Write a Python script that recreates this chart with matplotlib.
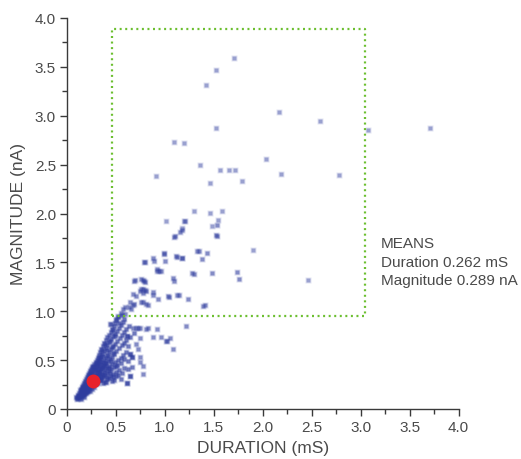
import matplotlib
matplotlib.use("Agg")
import matplotlib.pyplot as plt
from matplotlib.ticker import MultipleLocator, FuncFormatter

plt.rcParams['font.family'] = ['Liberation Sans', 'DejaVu Sans']

# ---- data (duration mS, magnitude nA) ----
core_points = [
    (0.10, 0.10), (0.12, 0.11), (0.14, 0.10), (0.11, 0.13), (0.095, 0.12),
    (0.13, 0.125), (0.155, 0.13), (0.17, 0.12), (0.115, 0.145), (0.135, 0.14),
    (0.15, 0.155), (0.175, 0.15), (0.19, 0.165), (0.125, 0.165), (0.145, 0.175),
    (0.16, 0.165), (0.185, 0.18), (0.205, 0.17), (0.135, 0.19), (0.155, 0.185),
    (0.17, 0.2), (0.195, 0.19), (0.215, 0.195), (0.235, 0.185), (0.145, 0.205),
    (0.165, 0.215), (0.18, 0.205), (0.205, 0.215), (0.225, 0.21), (0.255, 0.2),
    (0.155, 0.225), (0.175, 0.23), (0.19, 0.225), (0.215, 0.23), (0.24, 0.235), (0.275, 0.225),
    (0.165, 0.245), (0.185, 0.255), (0.2, 0.24), (0.23, 0.25), (0.26, 0.245), (0.295, 0.255),
    (0.175, 0.265), (0.195, 0.275), (0.22, 0.265), (0.25, 0.275), (0.28, 0.262), (0.315, 0.27), (0.365, 0.262),
    (0.185, 0.285), (0.21, 0.295), (0.235, 0.285), (0.3, 0.282), (0.335, 0.295), (0.385, 0.28), (0.455, 0.29),
    (0.195, 0.305), (0.225, 0.315), (0.255, 0.3), (0.28, 0.312), (0.31, 0.298), (0.345, 0.31), (0.405, 0.302), (0.485, 0.3), (0.555, 0.312),
    (0.205, 0.325), (0.232, 0.335), (0.265, 0.322), (0.298, 0.334), (0.33, 0.32), (0.372, 0.33), (0.425, 0.322), (0.505, 0.333), (0.61, 0.27),
    (0.215, 0.345), (0.243, 0.355), (0.275, 0.342), (0.312, 0.352), (0.352, 0.34), (0.392, 0.352), (0.452, 0.342), (0.522, 0.35), (0.642, 0.34),
    (0.225, 0.365), (0.258, 0.372), (0.29, 0.362), (0.328, 0.373), (0.362, 0.36), (0.412, 0.371), (0.472, 0.362), (0.562, 0.372),
    (0.235, 0.385), (0.272, 0.392), (0.302, 0.38), (0.342, 0.391), (0.382, 0.381), (0.432, 0.39), (0.502, 0.382),
    (0.245, 0.405), (0.282, 0.413), (0.318, 0.4), (0.352, 0.411), (0.392, 0.402), (0.452, 0.41), (0.532, 0.402), (0.622, 0.41),
    (0.255, 0.425), (0.292, 0.432), (0.332, 0.42), (0.372, 0.431), (0.412, 0.422), (0.482, 0.43), (0.582, 0.421),
    (0.268, 0.445), (0.302, 0.452), (0.342, 0.44), (0.382, 0.451), (0.432, 0.44), (0.512, 0.452), (0.662, 0.432),
    (0.278, 0.465), (0.312, 0.472), (0.352, 0.462), (0.402, 0.471), (0.462, 0.462), (0.552, 0.47),
    (0.292, 0.485), (0.328, 0.492), (0.372, 0.481), (0.422, 0.49), (0.492, 0.481), (0.622, 0.49),
    (0.302, 0.505), (0.342, 0.512), (0.382, 0.5), (0.442, 0.511), (0.522, 0.502), (0.582, 0.51),
    (0.312, 0.525), (0.352, 0.532), (0.402, 0.522), (0.462, 0.53), (0.552, 0.522), (0.642, 0.56),
    (0.322, 0.552), (0.362, 0.562), (0.412, 0.55), (0.482, 0.56), (0.572, 0.551), (0.662, 0.53),
    (0.342, 0.582), (0.382, 0.592), (0.432, 0.58), (0.502, 0.59), (0.602, 0.58),
    (0.352, 0.612), (0.402, 0.622), (0.452, 0.61), (0.532, 0.62),
    (0.372, 0.642), (0.412, 0.652), (0.472, 0.64), (0.562, 0.651), (0.622, 0.64),
    (0.382, 0.672), (0.432, 0.682), (0.492, 0.67), (0.582, 0.68),
    (0.402, 0.702), (0.452, 0.712), (0.512, 0.7), (0.602, 0.71),
    (0.412, 0.732), (0.472, 0.742), (0.542, 0.73), (0.612, 0.75), (0.642, 0.74),
    (0.432, 0.762), (0.492, 0.772), (0.562, 0.76),
    (0.452, 0.792), (0.512, 0.8), (0.582, 0.79), (0.682, 0.78),
    (0.462, 0.822), (0.532, 0.83), (0.602, 0.82),
    (0.482, 0.852), (0.552, 0.86), (0.632, 0.85),
    (0.492, 0.882), (0.572, 0.89),
    (0.502, 0.912), (0.582, 0.92),
    (0.522, 0.942), (0.562, 0.96),
]

core_fill = [
    (0.105, 0.115), (0.125, 0.135), (0.14, 0.155), (0.16, 0.14), (0.18, 0.16),
    (0.15, 0.195), (0.19, 0.21), (0.21, 0.18), (0.165, 0.23), (0.2, 0.26),
    (0.23, 0.22), (0.25, 0.26), (0.21, 0.28), (0.24, 0.3), (0.27, 0.29),
    (0.22, 0.35), (0.26, 0.34), (0.29, 0.32), (0.32, 0.34), (0.25, 0.39),
    (0.29, 0.4), (0.33, 0.38), (0.37, 0.35), (0.41, 0.33), (0.44, 0.37),
    (0.27, 0.43), (0.31, 0.44), (0.36, 0.42), (0.39, 0.44), (0.43, 0.42),
    (0.3, 0.47), (0.34, 0.48), (0.39, 0.47), (0.45, 0.49), (0.5, 0.44),
    (0.33, 0.53), (0.37, 0.54), (0.42, 0.54), (0.47, 0.57), (0.36, 0.6),
    (0.41, 0.6), (0.46, 0.63), (0.39, 0.66), (0.44, 0.7), (0.49, 0.75),
    (0.47, 0.81), (0.53, 0.88), (0.35, 0.3), (0.4, 0.28), (0.47, 0.33),
]

mid_points = [
    (1.17, 1.83), (1.15, 1.81), (1.10, 1.77), (1.09, 1.76), (1.53, 1.77), (1.52, 1.78), (1.53, 1.88),
    (1.21, 1.92), (0.99, 1.60), (0.99, 1.59), (1.11, 1.57), (1.12, 1.56), (1.18, 1.54), (1.17, 1.54),
    (1.35, 1.62), (1.33, 1.62), (1.43, 1.60), (0.88, 1.54), (0.89, 1.51), (0.79, 1.50), (0.80, 1.50),
    (1.00, 1.51), (1.38, 1.53), (0.92, 1.41), (0.94, 1.41), (0.96, 1.41), (0.92, 1.43),
    (1.28, 1.39), (1.30, 1.38), (1.48, 1.39), (1.74, 1.40), (1.76, 1.33), (1.08, 1.34), (1.09, 1.31),
    (0.76, 1.33), (0.79, 1.31), (0.68, 1.31), (0.69, 1.32), (0.78, 1.32), (0.80, 1.30),
    (0.78, 1.23), (0.81, 1.21), (0.75, 1.21), (0.76, 1.23), (0.80, 1.22), (0.78, 1.19),
    (0.875, 1.20), (0.88, 1.17), (1.035, 1.16), (1.045, 1.15), (1.12, 1.17), (1.14, 1.17),
    (1.24, 1.125), (0.93, 1.13), (0.67, 1.18), (0.70, 1.16),
    (0.78, 1.09), (0.81, 1.07), (0.83, 1.06), (0.76, 1.09), (0.68, 1.07), (0.64, 1.09), (0.67, 1.06),
    (0.63, 1.04), (0.65, 1.02), (0.59, 1.04), (1.39, 1.05), (1.41, 1.06),
    (0.575, 1.02), (0.55, 0.98), (0.59, 0.97), (0.52, 0.955), (0.50, 0.92), (0.45, 0.87), (0.44, 0.87),
    (0.67, 0.825), (0.71, 0.825), (0.73, 0.825), (0.75, 0.825), (0.81, 0.82), (0.83, 0.825), (0.92, 0.82),
    (1.22, 0.85), (0.875, 0.74), (0.96, 0.74), (1.05, 0.73), (1.02, 0.70), (1.01, 0.70), (1.08, 0.61),
    (0.75, 0.73), (0.61, 0.75), (0.71, 0.66), (0.73, 0.61), (0.64, 0.56), (0.66, 0.53), (0.75, 0.53),
    (0.75, 0.48), (0.78, 0.44), (0.78, 0.36), (0.64, 0.34), (0.61, 0.27),
]

outer_points = [
    (1.71, 3.59), (1.52, 3.47), (1.42, 3.31), (1.52, 2.87), (1.09, 2.73), (1.20, 2.72),
    (1.36, 2.50), (1.56, 2.44), (1.66, 2.45), (1.72, 2.44), (0.91, 2.38), (1.46, 2.31),
    (1.79, 2.33), (1.30, 2.03), (1.46, 2.01), (1.58, 2.03), (1.01, 1.92), (1.20, 1.92),
    (1.17, 1.85), (1.54, 1.93), (1.48, 1.875),
    (2.17, 3.04), (2.59, 2.95), (3.08, 2.85), (3.71, 2.87), (2.03, 2.56), (2.19, 2.40),
    (2.78, 2.39), (2.46, 1.32), (1.90, 1.63),
]

mean_duration = 0.262
mean_magnitude = 0.289

box_duration = [0.46, 3.04]
box_magnitude = [0.955, 3.89]

means_lines = ["MEANS", "Duration 0.262 mS", "Magnitude 0.289 nA"]

# ---- figure ----
fig = plt.figure(figsize=(5.21, 4.60), dpi=100)
ax = fig.add_axes([67 / 521, 1 - 410 / 460, (458.5 - 67) / 521, (410 - 19) / 460])

pt_color = '#2e3c9e'
groups = ((core_points + core_fill, 0.6, 4.6), (mid_points, 0.5, 4.6), (outer_points, 0.4, 4.6))
for pts, alpha, ms in groups:
    xs = [p[0] for p in pts]
    ys = [p[1] for p in pts]
    ax.plot(xs, ys, 's', color=pt_color, ms=ms, alpha=alpha * 0.35, mec='none')
    ax.plot(xs, ys, 's', color=pt_color, ms=2.8, alpha=alpha, mec='none')

ax.plot([mean_duration], [mean_magnitude], 'o', color='#e8212b', ms=10, mec='none', zorder=5)

bx0, bx1 = box_duration
by0, by1 = box_magnitude
ax.plot([bx0, bx1, bx1, bx0, bx0], [by0, by0, by1, by1, by0],
        color='#6cbf30', lw=1.6, dashes=(0.9, 1.6), dash_capstyle='butt', zorder=4)

ax.set_xlim(0, 4.0)
ax.set_ylim(0, 4.0)
for s in ('top', 'right'):
    ax.spines[s].set_visible(False)
for s in ('left', 'bottom'):
    ax.spines[s].set_color('#3a3a3a')
    ax.spines[s].set_linewidth(1.0)

ax.xaxis.set_major_locator(MultipleLocator(0.5))
ax.xaxis.set_minor_locator(MultipleLocator(0.25))
ax.yaxis.set_major_locator(MultipleLocator(0.5))
ax.yaxis.set_minor_locator(MultipleLocator(0.25))
fmt = FuncFormatter(lambda v, p: '0' if abs(v) < 1e-9 else f'{v:.1f}')
ax.xaxis.set_major_formatter(fmt)
ax.yaxis.set_major_formatter(fmt)
ax.tick_params(which='major', direction='out', length=5, width=1, color='#3a3a3a',
               labelsize=11, labelcolor='#4a4a4a', pad=3)
ax.tick_params(which='minor', direction='out', length=3.5, width=1, color='#3a3a3a')

ax.set_xlabel('DURATION (mS)', fontsize=12.5, color='#4a4a4a', labelpad=4)
ax.set_ylabel('MAGNITUDE (nA)', fontsize=12.5, color='#4a4a4a', labelpad=6)

for i, line in enumerate(means_lines):
    fig.text(381 / 521, 1 - (244 + i * 18.7) / 460, line, fontsize=11, color='#4a4a4a',
             ha='left', va='center')

fig.savefig('out.png', dpi=100, facecolor='white')
